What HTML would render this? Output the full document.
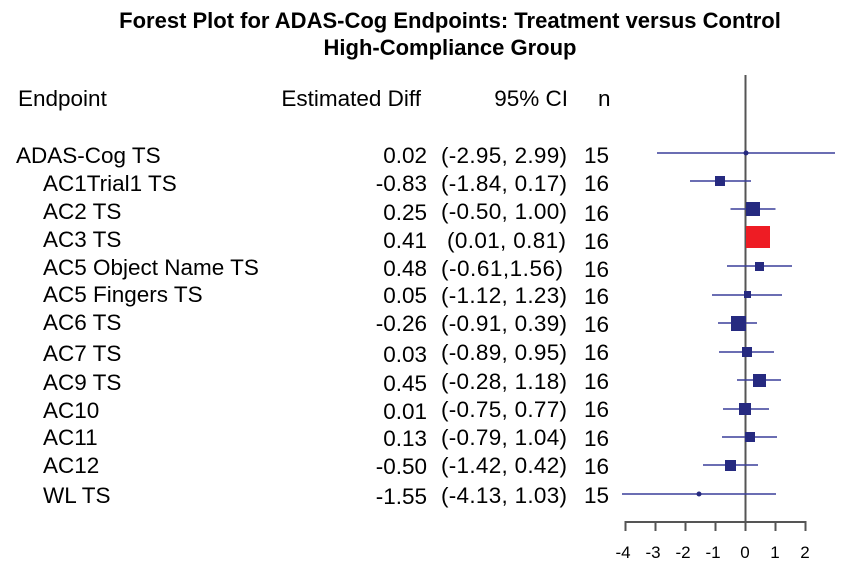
<!DOCTYPE html>
<html><head><meta charset="utf-8"><style>
html,body{margin:0;padding:0;background:#fff;}
svg{display:block;font-family:"Liberation Sans",Arial,sans-serif;}
</style></head><body>
<svg width="850" height="570" xmlns="http://www.w3.org/2000/svg">
<g font-weight="bold" font-size="22" text-anchor="middle" fill="#000">
<text x="450" y="28">Forest Plot for ADAS-Cog Endpoints: Treatment versus Control</text>
<text x="450" y="55">High-Compliance Group</text>
</g>
<g font-size="22.5" fill="#000">
<text x="18" y="106">Endpoint</text>
<text x="421" y="106" text-anchor="end">Estimated Diff</text>
<text x="568" y="106" text-anchor="end">95% CI</text>
<text x="598" y="106">n</text>
</g>
<g font-size="22.5" fill="#000">
<text x="16" y="163">ADAS-Cog TS</text>
<text x="43" y="191">AC1Trial1 TS</text>
<text x="43" y="219">AC2 TS</text>
<text x="43" y="247">AC3 TS</text>
<text x="43" y="275">AC5 Object Name TS</text>
<text x="43" y="302">AC5 Fingers TS</text>
<text x="43" y="330">AC6 TS</text>
<text x="43" y="361">AC7 TS</text>
<text x="43" y="390">AC9 TS</text>
<text x="43" y="418">AC10</text>
<text x="43" y="445">AC11</text>
<text x="43" y="473">AC12</text>
<text x="43" y="503">WL TS</text>
</g>
<g font-size="22.5" fill="#000" text-anchor="end">
<text x="427" y="163">0.02</text>
<text x="427" y="191">-0.83</text>
<text x="427" y="220">0.25</text>
<text x="427" y="248">0.41</text>
<text x="427" y="276">0.48</text>
<text x="427" y="303">0.05</text>
<text x="427" y="331">-0.26</text>
<text x="427" y="362">0.03</text>
<text x="427" y="391">0.45</text>
<text x="427" y="419">0.01</text>
<text x="427" y="446">0.13</text>
<text x="427" y="474">-0.50</text>
<text x="427" y="504">-1.55</text>
</g>
<g font-size="22.5" fill="#000" textLength="126">
<text x="441" y="163" textLength="126">(-2.95, 2.99)</text>
<text x="441" y="191" textLength="126">(-1.84, 0.17)</text>
<text x="441" y="219" textLength="126">(-0.50, 1.00)</text>
<text x="447" y="248" textLength="119">(0.01, 0.81)</text>
<text x="441" y="276" textLength="122">(-0.61,1.56)</text>
<text x="441" y="303" textLength="126">(-1.12, 1.23)</text>
<text x="441" y="331" textLength="126">(-0.91, 0.39)</text>
<text x="441" y="360" textLength="126">(-0.89, 0.95)</text>
<text x="441" y="389" textLength="126">(-0.28, 1.18)</text>
<text x="441" y="417" textLength="126">(-0.75, 0.77)</text>
<text x="441" y="445" textLength="126">(-0.79, 1.04)</text>
<text x="441" y="473" textLength="126">(-1.42, 0.42)</text>
<text x="441" y="503" textLength="126">(-4.13, 1.03)</text>
</g>
<g font-size="22.5" fill="#000">
<text x="584" y="163">15</text>
<text x="584" y="191">16</text>
<text x="584" y="221">16</text>
<text x="584" y="249">16</text>
<text x="584" y="277">16</text>
<text x="584" y="304">16</text>
<text x="584" y="332">16</text>
<text x="584" y="360">16</text>
<text x="584" y="389">16</text>
<text x="584" y="417">16</text>
<text x="584" y="446">16</text>
<text x="584" y="474">16</text>
<text x="584" y="503">15</text>
</g>
<g stroke="#555" stroke-width="2" fill="none">
<line x1="745.5" y1="75" x2="745.5" y2="522"/>
<line x1="625" y1="522" x2="806" y2="522"/>
<line x1="625.5" y1="521" x2="625.5" y2="531"/>
<line x1="655.5" y1="521" x2="655.5" y2="531"/>
<line x1="685.5" y1="521" x2="685.5" y2="531"/>
<line x1="715.5" y1="521" x2="715.5" y2="531"/>
<line x1="745.5" y1="521" x2="745.5" y2="531"/>
<line x1="775.5" y1="521" x2="775.5" y2="531"/>
<line x1="805.5" y1="521" x2="805.5" y2="531"/>
</g>
<g font-size="17" text-anchor="middle" fill="#000">
<text x="623" y="558">-4</text><text x="653" y="558">-3</text><text x="683" y="558">-2</text><text x="713" y="558">-1</text><text x="745" y="558">0</text><text x="775" y="558">1</text><text x="805" y="558">2</text>
</g>
<g stroke="#3a3f9a" stroke-width="1.6">
<line x1="657" y1="153" x2="835" y2="153"/>
<line x1="690" y1="181" x2="751" y2="181"/>
<line x1="730.5" y1="209" x2="775.5" y2="209"/>
<line x1="745.8" y1="237" x2="769.8" y2="237"/>
<line x1="727" y1="266" x2="792" y2="266"/>
<line x1="712" y1="295" x2="782" y2="295"/>
<line x1="718" y1="323" x2="757" y2="323"/>
<line x1="719" y1="352" x2="774" y2="352"/>
<line x1="737" y1="380" x2="781" y2="380"/>
<line x1="723" y1="409" x2="769" y2="409"/>
<line x1="722" y1="437" x2="777" y2="437"/>
<line x1="703" y1="465" x2="758" y2="465"/>
<line x1="622" y1="494" x2="776" y2="494"/>
</g>
<g fill="#262a80">
<circle cx="746" cy="153" r="2.5"/>
<rect x="715" y="176" width="10" height="10"/>
<rect x="746" y="202" width="14" height="14"/>
<rect x="755" y="262" width="9" height="9"/>
<rect x="744" y="291" width="7" height="7"/>
<rect x="731" y="316" width="15" height="15"/>
<rect x="742" y="347" width="10" height="10"/>
<rect x="753" y="374" width="13" height="13"/>
<rect x="739" y="403" width="12" height="12"/>
<rect x="745" y="432" width="10" height="10"/>
<rect x="725" y="460" width="11" height="11"/>
<circle cx="699" cy="494" r="2.5"/>
</g>
<rect x="746" y="226" width="24" height="22" fill="#ee1c24"/>
</svg>
</body></html>
